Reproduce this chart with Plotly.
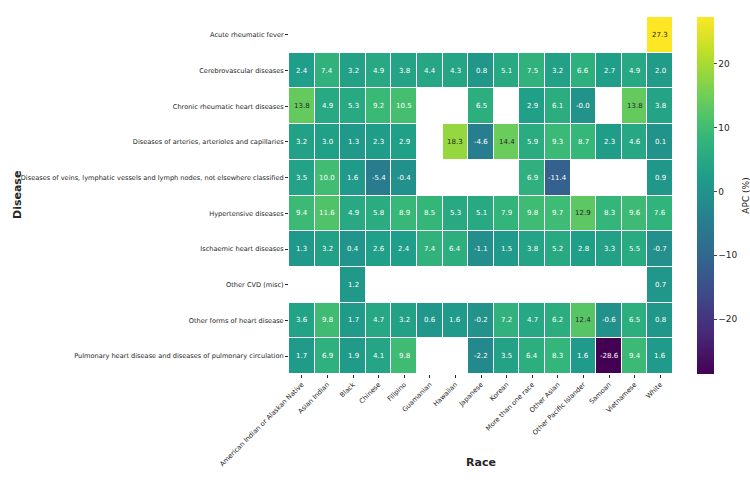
import plotly.graph_objects as go

races = ["American Indian or Alaskan Native", "Asian Indian", "Black", "Chinese", "Filipino",
         "Guamanian", "Hawaiian", "Japanese", "Korean", "More than one race", "Other Asian",
         "Other Pacific Islander", "Samoan", "Vietnamese", "White"]
diseases = ["Acute rheumatic fever", "Cerebrovascular diseases", "Chronic rheumatic heart diseases",
            "Diseases of arteries, arterioles and capillaries",
            "Diseases of veins, lymphatic vessels and lymph nodes, not elsewhere classified",
            "Hypertensive diseases", "Ischaemic heart diseases", "Other CVD (misc)",
            "Other forms of heart disease",
            "Pulmonary heart disease and diseases of pulmonary circulation"]
N = None
acute = [N, N, N, N, N, N, N, N, N, N, N, N, N, N, 27.3]
cerebro = [2.4, 7.4, 3.2, 4.9, 3.8, 4.4, 4.3, 0.8, 5.1, 7.5, 3.2, 6.6, 2.7, 4.9, 2.0]
chronic = [13.8, 4.9, 5.3, 9.2, 10.5, N, N, 6.5, N, 2.9, 6.1, -0.0, N, 13.8, 3.8]
arteries = [3.2, 3.0, 1.3, 2.3, 2.9, N, 18.3, -4.6, 14.4, 5.9, 9.3, 8.7, 2.3, 4.6, 0.1]
veins = [3.5, 10.0, 1.6, -5.4, -0.4, N, N, N, N, 6.9, -11.4, N, N, N, 0.9]
hypert = [9.4, 11.6, 4.9, 5.8, 8.9, 8.5, 5.3, 5.1, 7.9, 9.8, 9.7, 12.9, 8.3, 9.6, 7.6]
ischaemic = [1.3, 3.2, 0.4, 2.6, 2.4, 7.4, 6.4, -1.1, 1.5, 3.8, 5.2, 2.8, 3.3, 5.5, -0.7]
other_cvd = [N, N, 1.2, N, N, N, N, N, N, N, N, N, N, N, 0.7]
other_forms = [3.6, 9.8, 1.7, 4.7, 3.2, 0.6, 1.6, -0.2, 7.2, 4.7, 6.2, 12.4, -0.6, 6.5, 0.8]
pulmonary = [1.7, 6.9, 1.9, 4.1, 9.8, N, N, -2.2, 3.5, 6.4, 8.3, 1.6, -28.6, 9.4, 1.6]

z = [acute, cerebro, chronic, arteries, veins, hypert, ischaemic, other_cvd, other_forms, pulmonary]

fig = go.Figure()
fig.add_trace(go.Heatmap(
    z=z, x=races, y=diseases, colorscale="Viridis", zmin=-28.6, zmax=27.3,
    xgap=1, ygap=1, hoverongaps=False,
    colorbar=dict(
        title=dict(text="APC (%)", side="right", font=dict(size=9, color="#262626")),
        xref="container", x=697 / 750, xanchor="left",
        yref="paper", y=0, yanchor="bottom", lenmode="fraction", len=1,
        thickness=17, outlinewidth=0, xpad=0, ypad=0,
        tickvals=[-20, -10, 0, 10, 20], ticks="outside", ticklen=3,
        tickfont=dict(size=9, color="#262626"),
    ),
))

annotations = []
for i, row in enumerate(z):
    for j, v in enumerate(row):
        if v is None:
            continue
        col = "#262626" if v >= 12 else "white"
        annotations.append(dict(x=races[j], y=diseases[i], text=f"{v:.1f}", showarrow=False,
                                font=dict(size=7, color=col)))

annotations.append(dict(text="<b>Race</b>", xref="paper", yref="paper", x=0.5,
                        y=(374 - 471) / 357, showarrow=False, font=dict(size=11, color="#262626")))
annotations.append(dict(text="<b>Disease</b>", xref="paper", yref="paper", x=(9 - 289) / 384,
                        y=0.5, textangle=-90, showarrow=False, font=dict(size=11, color="#262626")))

fig.update_layout(
    width=750, height=482, margin=dict(l=289, r=77, t=17, b=108, autoexpand=False),
    paper_bgcolor="white", plot_bgcolor="white",
    font=dict(family="DejaVu Sans", color="#262626"),
    annotations=annotations,
)
fig.update_xaxes(tickangle=-45, ticks="outside", ticklen=3, tickcolor="#262626", automargin=False,
                 tickfont=dict(size=6.7), showgrid=False, zeroline=False)
fig.update_yaxes(autorange="reversed", ticks="outside", ticklen=3, tickcolor="#262626", automargin=False,
                 tickfont=dict(size=6.6), showgrid=False, zeroline=False)

fig.write_html("out.html")
